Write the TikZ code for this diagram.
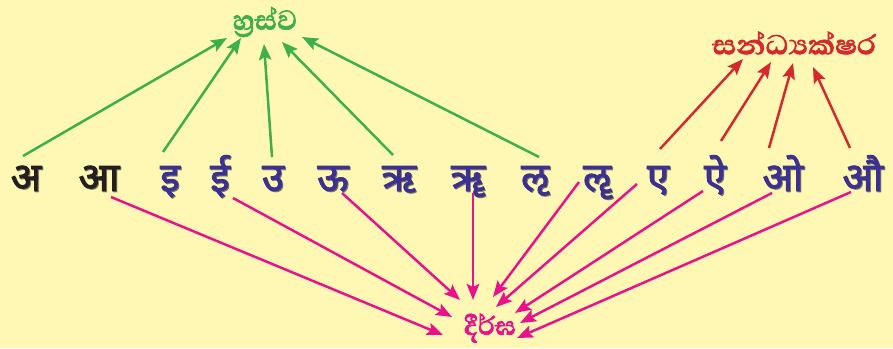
\documentclass[tikz,border=0pt]{standalone}
\usepackage{fontspec}
\usepackage{graphicx}
\usetikzlibrary{arrows.meta,calc}
\newfontfamily\devafont[Script=Devanagari,FakeBold=2.2]{Noto Sans}
\newfontfamily\sinhfont[Script=Sinhala,FakeBold=2]{Abhaya Libre}
\definecolor{bgc}{HTML}{FFF8B4}
\definecolor{grn}{HTML}{3DB04B}
\definecolor{rd}{HTML}{D42A2E}
\definecolor{pk}{HTML}{E8128C}
\definecolor{blu}{HTML}{3A3192}
\definecolor{blk}{HTML}{231F20}
\tikzset{
  lt/.style={anchor=base,inner sep=0pt,font=\devafont\bfseries\fontsize{40}{40}\selectfont},
  shd/.style={lt,text=black,opacity=0.35},
  lab/.style={inner sep=0pt,font=\sinhfont\bfseries\fontsize{35}{35}\selectfont},
  arr/.style={line width=2.5pt,-{Stealth[length=16pt,width=12.5pt,inset=3pt]}},
}
\begin{document}
\begin{tikzpicture}[x=1pt,y=-1pt]
\fill[bgc] (0,0) rectangle (893,348);
\useasboundingbox (0,0) rectangle (893,348);
% shadows
\foreach \x/\t in {26/अ,99/आ,170/इ,220/ई,273/उ,333/ऊ,399/ऋ,468/ॠ,535/ऌ,597/ॡ,658/ए,715/ऐ,783/ओ,863/औ}
  \node[shd] at (\x+1,192) {\t};
% letters
\node[lt,text=blk] (a)  at (26,191) {अ};
\node[lt,text=blk] (aa) at (99,191) {आ};
\node[lt,text=blu] (i)  at (170,191) {इ};
\node[lt,text=blu] (ii) at (220,191) {ई};
\node[lt,text=blu] (u)  at (273,191) {उ};
\node[lt,text=blu] (uu) at (333,191) {ऊ};
\node[lt,text=blu] (r)  at (399,191) {ऋ};
\node[lt,text=blu] (rr) at (468,191) {ॠ};
\node[lt,text=blu] (l)  at (535,191) {ऌ};
\node[lt,text=blu] (ll) at (597,191) {ॡ};
\node[lt,text=blu] (e)  at (658,191) {ए};
\node[lt,text=blu] (ai) at (715,191) {ऐ};
\node[lt,text=blu] (o)  at (783,191) {ओ};
\node[lt,text=blu] (au) at (863,191) {औ};
% labels
\node[lab,text=grn] (hr) at (265,22) {හ්‍රස්ව};
\node[lab,text=rd]  (sa) at (794,43) {\scalebox{1.08}[1]{සන්ධ්‍යක්ෂර}};
\node[lab,text=pk,font=\sinhfont\bfseries\fontsize{33}{33}\selectfont]  (di) at (490,328) {දීර්ඝ};
% green
\begin{scope}[grn,arr]
\draw ([shift={(-3,-35)}]a.base) -- ([shift={(-38,16)}]hr.center);
\draw ([shift={(-7,-39)}]i.base) -- ([shift={(-24,16)}]hr.center);
\draw ([shift={(-1,-34)}]u.base) -- ([shift={(-1,22)}]hr.center);
\draw ([shift={(-6,-36)}]r.base) -- ([shift={(17,20)}]hr.center);
\draw ([shift={(4,-34)}]l.base) -- ([shift={(37,15)}]hr.center);
\end{scope}
% red
\begin{scope}[rd,arr]
\draw ([shift={(2,-42)}]e.base) -- ([shift={(-51,16)}]sa.center);
\draw ([shift={(6,-50)}]ai.base) -- ([shift={(-23,19)}]sa.center);
\draw ([shift={(-14,-43)}]o.base) -- ([shift={(-1,20)}]sa.center);
\draw ([shift={(-13,-43)}]au.base) -- ([shift={(19,24)}]sa.center);
\end{scope}
% pink
\begin{scope}[pk,arr]
\draw ([shift={(12,6)}]aa.base) -- ([shift={(-47,7)}]di.center);
\draw ([shift={(13,7)}]ii.base) -- ([shift={(-38,-11)}]di.center);
\draw ([shift={(9,2)}]uu.base) -- ([shift={(-30,-28)}]di.center);
\draw ([shift={(5,2)}]rr.base) -- ([shift={(-17,-28)}]di.center);
\draw ([shift={(-18,-9)}]ll.base) -- ([shift={(3,-31)}]di.center);
\draw ([shift={(-21,-7)}]e.base) -- ([shift={(6,-21)}]di.center);
\draw ([shift={(-12,0)}]ai.base) -- ([shift={(25,-15)}]di.center);
\draw ([shift={(-11,2)}]o.base) -- ([shift={(30,-5)}]di.center);
\draw ([shift={(-12,1)}]au.base) -- ([shift={(27,10)}]di.center);
\end{scope}
\end{tikzpicture}
\end{document}
